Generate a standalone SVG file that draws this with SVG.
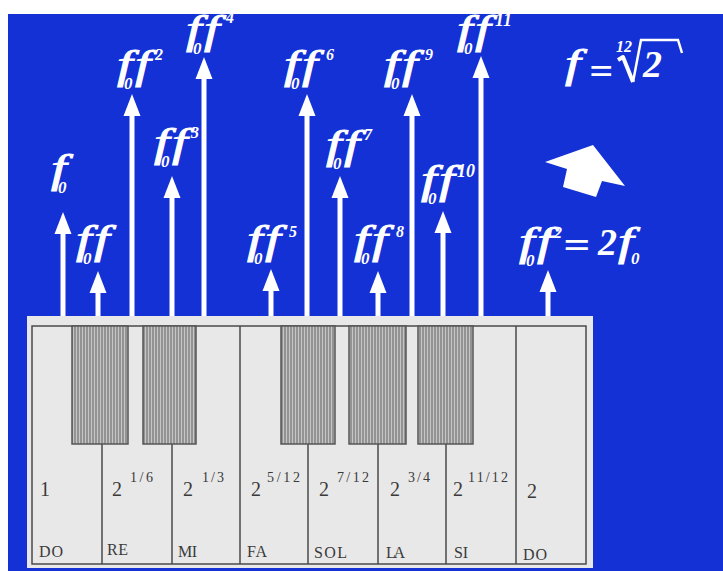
<svg xmlns="http://www.w3.org/2000/svg" width="723" height="571" viewBox="0 0 723 571">
<defs>
<pattern id="stripes" width="3" height="4" patternUnits="userSpaceOnUse">
<rect width="3" height="4" fill="#939393"/>
<rect x="1" width="1" height="4" fill="#c6c6c6"/>
</pattern>
</defs>
<style>
.ar{stroke:#fff;stroke-width:5;fill:none}
.hd{fill:#fff}
.f{font-family:"Liberation Serif","Times New Roman",serif;font-style:italic;fill:#fff;stroke:#fff;stroke-width:0.9;font-size:40px}
.d{font-family:"Liberation Serif","Times New Roman",serif;font-weight:bold;font-style:italic;fill:#fff;font-size:38px}
.sb{font-family:"Liberation Serif","Times New Roman",serif;font-weight:bold;font-style:italic;fill:#fff;font-size:17px}
.sp{font-family:"Liberation Serif","Times New Roman",serif;font-weight:bold;font-style:italic;fill:#fff;font-size:16px}
.sp2{font-family:"Liberation Serif","Times New Roman",serif;font-weight:bold;font-style:italic;fill:#fff;font-size:18px}
.kl{stroke:#4a4a4a;stroke-width:1.5;fill:none}
.bk{fill:url(#stripes);stroke:#555;stroke-width:1.5}
.n{font-family:"Liberation Serif","Times New Roman",serif;fill:#3a3a3a;font-size:20px}
.e{font-family:"Liberation Serif","Times New Roman",serif;fill:#3a3a3a;font-size:14px}
.nm{font-family:"Liberation Serif","Times New Roman",serif;fill:#3a3a3a;font-size:16px}
</style>
<rect x="8" y="14" width="715" height="557" fill="#1431d6"/>

<g id="keyboard">
<rect x="27" y="316" width="566" height="252" fill="#e8e8e8"/>
<rect x="32" y="326" width="554" height="238" class="kl"/>
<line x1="102" y1="444" x2="102" y2="564" class="kl"/>
<line x1="172" y1="444" x2="172" y2="564" class="kl"/>
<line x1="240" y1="326" x2="240" y2="564" class="kl"/>
<line x1="308" y1="444" x2="308" y2="564" class="kl"/>
<line x1="378" y1="444" x2="378" y2="564" class="kl"/>
<line x1="446" y1="444" x2="446" y2="564" class="kl"/>
<line x1="516" y1="326" x2="516" y2="564" class="kl"/>
<rect x="72" y="326" width="56" height="118" class="bk"/>
<rect x="143" y="326" width="53" height="118" class="bk"/>
<rect x="281" y="326" width="54" height="118" class="bk"/>
<rect x="349" y="326" width="57" height="118" class="bk"/>
<rect x="418" y="326" width="55" height="118" class="bk"/>
<text class="n" x="40" y="496">1</text>
<text class="n" x="112" y="496">2</text><text class="e" x="130" y="482" textLength="23">1/6</text>
<text class="n" x="183" y="496">2</text><text class="e" x="202" y="482" textLength="22">1/3</text>
<text class="n" x="251" y="496">2</text><text class="e" x="267" y="482" textLength="33">5/12</text>
<text class="n" x="319" y="496">2</text><text class="e" x="337" y="482" textLength="32">7/12</text>
<text class="n" x="390" y="496">2</text><text class="e" x="408" y="482" textLength="22">3/4</text>
<text class="n" x="453" y="496">2</text><text class="e" x="468" y="482" textLength="40">11/12</text>
<text class="n" x="527" y="498">2</text>
<text class="nm" x="39" y="557" textLength="24">DO</text>
<text class="nm" x="107" y="555" textLength="21">RE</text>
<text class="nm" x="178" y="557" textLength="19">MI</text>
<text class="nm" x="247" y="557" textLength="20">FA</text>
<text class="nm" x="314" y="558" textLength="33">SOL</text>
<text class="nm" x="386" y="558" textLength="19">LA</text>
<text class="nm" x="454" y="558" textLength="14">SI</text>
<text class="nm" x="523" y="560" textLength="24">DO</text>
</g>

<g id="connectors">
<line class="ar" x1="63" y1="316" x2="63" y2="228"/><path class="hd" d="M54.5,234 L63,212 L71.5,234 Z"/>
<line class="ar" x1="98" y1="316" x2="98" y2="287"/><path class="hd" d="M89.5,293 L98,271 L106.5,293 Z"/>
<line class="ar" x1="132" y1="316" x2="132" y2="110"/><path class="hd" d="M123.5,116 L132,94 L140.5,116 Z"/>
<line class="ar" x1="172" y1="316" x2="172" y2="192"/><path class="hd" d="M163.5,198 L172,176 L180.5,198 Z"/>
<line class="ar" x1="204" y1="316" x2="204" y2="73"/><path class="hd" d="M195.5,79 L204,57 L212.5,79 Z"/>
<line class="ar" x1="271" y1="316" x2="271" y2="285"/><path class="hd" d="M262.5,291 L271,269 L279.5,291 Z"/>
<line class="ar" x1="307" y1="316" x2="307" y2="110"/><path class="hd" d="M298.5,116 L307,94 L315.5,116 Z"/>
<line class="ar" x1="340" y1="316" x2="340" y2="192"/><path class="hd" d="M331.5,198 L340,176 L348.5,198 Z"/>
<line class="ar" x1="378" y1="316" x2="378" y2="287"/><path class="hd" d="M369.5,293 L378,271 L386.5,293 Z"/>
<line class="ar" x1="412" y1="316" x2="412" y2="110"/><path class="hd" d="M403.5,116 L412,94 L420.5,116 Z"/>
<line class="ar" x1="443" y1="316" x2="443" y2="227"/><path class="hd" d="M434.5,233 L443,211 L451.5,233 Z"/>
<line class="ar" x1="481" y1="316" x2="481" y2="72"/><path class="hd" d="M472.5,78 L481,56 L489.5,78 Z"/>
<line class="ar" x1="548" y1="316" x2="548" y2="286"/><path class="hd" d="M539.5,292 L548,270 L556.5,292 Z"/>
</g>

<g id="n1"><text class="f" transform="translate(51,182) scale(1.4,1)">f</text><text class="sb" x="58" y="193">0</text></g>
<g id="n2"><text class="f" transform="translate(76,253) scale(1.4,1)">f</text><text class="sb" x="83" y="264">0</text><text class="f" transform="translate(94,253) scale(1.4,1)">f</text></g>
<g id="n3"><text class="f" transform="translate(117,78) scale(1.4,1)">f</text><text class="sb" x="124" y="89">0</text><text class="f" transform="translate(135,78) scale(1.4,1)">f</text><text class="sp" x="155" y="60">2</text></g>
<g id="n4"><text class="f" transform="translate(154,156) scale(1.4,1)">f</text><text class="sb" x="161" y="167">0</text><text class="f" transform="translate(172,156) scale(1.4,1)">f</text><text class="sp" x="191" y="138">3</text></g>
<g id="n5"><text class="f" transform="translate(186,43) scale(1.4,1)">f</text><text class="sb" x="193" y="54">0</text><text class="f" transform="translate(204,43) scale(1.4,1)">f</text><text class="sp" x="226" y="23">4</text></g>
<g id="n6"><text class="f" transform="translate(247,253) scale(1.4,1)">f</text><text class="sb" x="254" y="264">0</text><text class="f" transform="translate(265,253) scale(1.4,1)">f</text><text class="sp" x="289" y="237">5</text></g>
<g id="n7"><text class="f" transform="translate(284,78) scale(1.4,1)">f</text><text class="sb" x="291" y="89">0</text><text class="f" transform="translate(302,78) scale(1.4,1)">f</text><text class="sp" x="326" y="60">6</text></g>
<g id="n8"><text class="f" transform="translate(326,158) scale(1.4,1)">f</text><text class="sb" x="333" y="169">0</text><text class="f" transform="translate(344,158) scale(1.4,1)">f</text><text class="sp" x="364" y="140">7</text></g>
<g id="n9"><text class="f" transform="translate(354,253) scale(1.4,1)">f</text><text class="sb" x="361" y="264">0</text><text class="f" transform="translate(372,253) scale(1.4,1)">f</text><text class="sp" x="396" y="237">8</text></g>
<g id="n10"><text class="f" transform="translate(384,78) scale(1.4,1)">f</text><text class="sb" x="391" y="89">0</text><text class="f" transform="translate(402,78) scale(1.4,1)">f</text><text class="sp" x="425" y="60">9</text></g>
<g id="n11"><text class="f" transform="translate(421,193) scale(1.4,1)">f</text><text class="sb" x="428" y="204">0</text><text class="f" transform="translate(439,193) scale(1.4,1)">f</text><text class="sp2" x="457" y="177">10</text></g>
<g id="n12"><text class="f" transform="translate(457,43) scale(1.4,1)">f</text><text class="sb" x="464" y="54">0</text><text class="f" transform="translate(475,43) scale(1.4,1)">f</text><text class="sp2" x="495" y="26">11</text></g>
<g id="n13"><text class="f" transform="translate(519,255) scale(1.4,1)">f</text><text class="sb" x="526" y="266">0</text><text class="f" transform="translate(537,255) scale(1.4,1)">f</text><text class="sp" x="546" y="238">12</text>
<text class="d" x="563" y="258" font-style="normal" textLength="27" lengthAdjust="spacingAndGlyphs">=</text>
<text class="d" x="598" y="255">2</text><text class="f" transform="translate(618,255) scale(1.4,1)">f</text><text class="sb" x="631" y="264">0</text></g>

<g id="formula">
<text class="f" transform="translate(565,77) scale(1.4,1)">f</text>
<text class="d" x="589" y="84" font-style="normal" textLength="24" lengthAdjust="spacingAndGlyphs">=</text>
<text class="sp" x="616" y="52">12</text>
<path d="M618,60 L623,57 L633,82" fill="none" stroke="#fff" stroke-width="4" stroke-linejoin="round"/>
<polyline points="633,82 641,40 678,40 682,53" fill="none" stroke="#fff" stroke-width="2.5"/>
<text class="d" x="643" y="77">2</text>
</g>

<g id="bigarrow">
<polygon points="545,162 593,145 625,186 602,181 596,197 563,187 567,169" fill="#fff"/>
</g>
</svg>
